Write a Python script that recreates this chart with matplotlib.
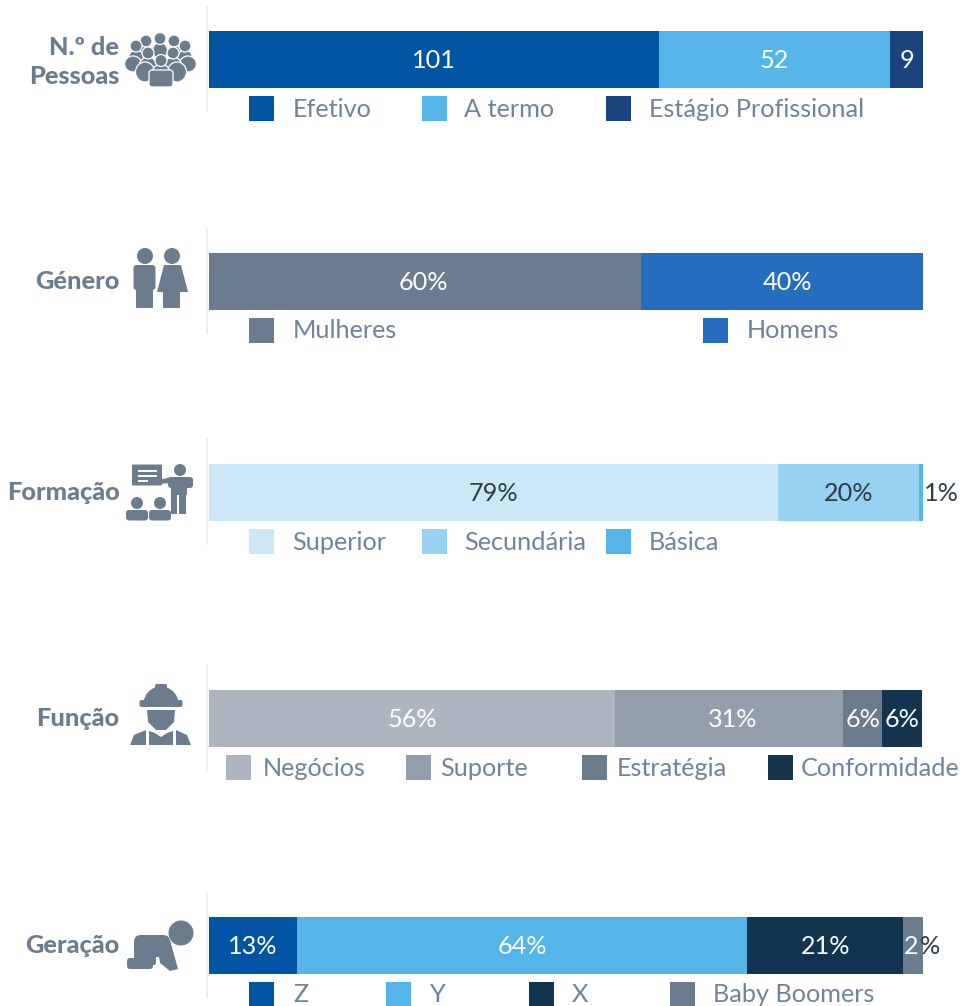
import matplotlib
matplotlib.use("Agg")
import matplotlib.pyplot as plt
from matplotlib.patches import Circle, Rectangle, Polygon, FancyBboxPatch, Ellipse, Wedge

plt.rcParams['font.family'] = ['Lato', 'DejaVu Sans']

W, H = 979, 1006
BAR_L, BAR_R = 209, 923

row_names = ["N.º de\nPessoas", "Género", "Formação", "Função", "Geração"]
row_y = [59.5, 281.5, 492.5, 718.5, 945.5]

# segment widths (share of the full bar length)
pessoas_w = [63.0, 32.4, 4.6]
genero_w = [60.5, 39.5]
formacao_w = [79.7, 19.7, 0.6]
funcao_w = [56.9, 31.9, 5.5, 5.6]
geracao_w = [12.3, 63.1, 21.8, 2.8]

pessoas_lab = ["101", "52", "9"]
genero_lab = ["60%", "40%"]
formacao_lab = ["79%", "20%", "1%"]
funcao_lab = ["56%", "31%", "6%", "6%"]
geracao_lab = ["13%", "64%", "21%", "2"]

pessoas_leg = ["Efetivo", "A termo", "Estágio Profissional"]
genero_leg = ["Mulheres", "Homens"]
formacao_leg = ["Superior", "Secundária", "Básica"]
funcao_leg = ["Negócios", "Suporte", "Estratégia", "Conformidade"]
geracao_leg = ["Z", "Y", "X", "Baby Boomers"]

pessoas_col = ["#0054a4", "#56b5e8", "#1b437d"]
genero_col = ["#6c7c8f", "#266dbf"]
formacao_col = ["#cce8f7", "#96d2f1", "#56b5e8"]
funcao_col = ["#adb5c0", "#929eab", "#6c7c8f", "#12344f"]
geracao_col = ["#0054a4", "#56b5e8", "#12344f", "#6c7c8f"]

pessoas_txt = ["white", "white", "white"]
genero_txt = ["white", "white"]
formacao_txt = ["#2e3d4a", "#2e3d4a", "#2e3d4a"]
funcao_txt = ["white", "white", "white", "white"]
geracao_txt = ["white", "white", "white", "white"]

widths = [pessoas_w, genero_w, formacao_w, funcao_w, geracao_w]
labels = [pessoas_lab, genero_lab, formacao_lab, funcao_lab, geracao_lab]
legends = [pessoas_leg, genero_leg, formacao_leg, funcao_leg, geracao_leg]
colors = [pessoas_col, genero_col, formacao_col, funcao_col, geracao_col]
txtcols = [pessoas_txt, genero_txt, formacao_txt, funcao_txt, geracao_txt]

# legend layout: swatch x, text x, swatch top y
leg_swatch_x = [[249, 422, 606], [249, 703], [249, 422, 606], [226, 406, 582, 768], [249, 386, 529, 670]]
leg_text_x = [[292.5, 464.5, 649], [292.5, 746.5], [292.5, 464.5, 649], [262.5, 440.5, 616.5, 800.5], [293, 430, 572, 713]]
leg_top = [96, 318, 529, 755, 982]
sep_span = [(6, 112), (228, 334), (438, 545), (665, 772), (892, 998)]
label_dx = {(1, 0): -2.0, (1, 1): 5.0, (3, 1): 3.0}
name_dy = [2.5, 0, 0, 0, 0]

GREY = "#6c7c8f"
LEG_TXT = "#71839a"
DARK = "#2e3d4a"
FS = 18.2

fig = plt.figure(figsize=(W / 100, H / 100), dpi=100, facecolor="white")

ax = fig.add_axes([BAR_L / W, 0, (BAR_R - BAR_L) / W, 1])
ax.set_xlim(0, 100)
ax.set_ylim(H, 0)
ax.axis("off")

px = fig.add_axes([0, 0, 1, 1], zorder=3)
px.set_xlim(0, W)
px.set_ylim(H, 0)
px.axis("off")
px.patch.set_alpha(0)

for i, y in enumerate(row_y):
    left = 0
    for j, (w, c) in enumerate(zip(widths[i], colors[i])):
        ax.barh(y, w, left=left, height=57, color=c, linewidth=0)
        cx = left + w / 2
        lab = labels[i][j]
        ty = y + 1
        if lab == "1%":
            px.text(924, ty, lab, color=DARK, fontsize=FS, ha="left", va="center")
        elif lab == "2":
            px.text(919, ty, lab, color="white", fontsize=FS, ha="right", va="center")
            px.text(920, ty, "%", color=DARK, fontsize=FS, ha="left", va="center")
        else:
            dx = label_dx.get((i, j), 0) * 100 / (BAR_R - BAR_L)
            ax.text(cx + dx, ty, lab, color=txtcols[i][j], fontsize=FS, ha="center", va="center")
        left += w
    for sx, tx, name, c in zip(leg_swatch_x[i], leg_text_x[i], legends[i], colors[i]):
        px.add_patch(Rectangle((sx, leg_top[i]), 25, 25, color=c, lw=0))
        px.text(tx, leg_top[i] + 13, name, color=LEG_TXT, fontsize=FS, ha="left", va="center")
    px.add_patch(Rectangle((206.5, sep_span[i][0]), 2, sep_span[i][1] - sep_span[i][0], color="#eeeef8", lw=0))
    px.text(119.5, y + name_dy[i], row_names[i], color=GREY, fontsize=18.3, fontweight="black",
            ha="right", va="center", linespacing=1.33)


def circ(x, y, r, c=GREY):
    px.add_patch(Circle((x, y), r, color=c, lw=0))


def box(x, y, w, h, r=2, c=GREY):
    px.add_patch(FancyBboxPatch((x + r, y + r), w - 2 * r, h - 2 * r, boxstyle=f"round,pad={r}", color=c, lw=0))


def poly(pts, c=GREY):
    px.add_patch(Polygon(pts, closed=True, color=c, lw=0))


def blob(x, head_y, r, bw, bh):
    """One head and a rounded body with a thin white outline, painted back to front."""
    px.add_patch(Ellipse((x, head_y + r + bh / 2), bw, bh + 4, fc=GREY, ec="white", lw=0.9))
    px.add_patch(Circle((x, head_y), r, fc=GREY, ec="white", lw=0.9))


# crowd icon
for x, hy in [(146, 41), (174, 41), (160, 38.5), (136, 46), (185, 46)]:
    blob(x, hy, 6, 15, 12)
for x, hy in [(133, 59), (188, 59)]:
    px.add_patch(Ellipse((x, hy + 5), 17, 16, fc=GREY, ec="white", lw=0.9))
for x, hy in [(148, 53), (173, 53)]:
    blob(x, hy, 6, 18, 16)
for x, hy in [(145, 66), (177, 66)]:
    px.add_patch(Ellipse((x, hy + 6), 19, 20, fc=GREY, ec="white", lw=0.9))
blob(161, 60.5, 6, 17, 10)
px.add_patch(FancyBboxPatch((152, 73), 18, 11, boxstyle="round,pad=3", fc=GREY, ec="white", lw=0.9))

# gender icon
circ(145, 256, 8)
box(133.5, 265, 22, 25, 3)
box(136, 285, 17, 23, 1)
circ(172, 256, 8)
poly([(164, 265), (181, 265), (188, 292), (157, 292)])
box(163, 288, 17, 20, 1)

# training icon
box(132, 464.5, 30, 21, 1)
for yy, x1 in [(470, 157), (475, 157), (480, 148)]:
    px.add_patch(Rectangle((138, yy), x1 - 138, 2, color="white", lw=0))
circ(180, 470, 6)
box(168, 477, 25, 11, 3)
box(171, 480, 16, 15, 1)
px.add_patch(Rectangle((171, 492), 6.5, 22, color=GREY, lw=0))
px.add_patch(Rectangle((179.5, 492), 6.5, 22, color=GREY, lw=0))
poly([(158, 480), (172, 477), (172, 483), (158, 484)])
for x in (137, 160):
    circ(x, 503, 6)
    box(x - 11, 510, 22, 10.5, 3)

# worker icon
px.add_patch(Wedge((161, 704), 17.5, 180, 360, color=GREY, lw=0))
box(155, 684, 12, 14, 2)
box(139.5, 700, 43, 7, 2)
poly([(147, 710), (175, 710), (174, 722), (166, 730), (156, 730), (148, 722)])
poly([(130, 745), (134, 735), (146, 730), (146, 745)])
poly([(149, 731), (155, 733), (161, 737), (167, 733), (173, 731), (173, 745), (149, 745)])
poly([(176, 730), (187, 735), (191, 745), (176, 745)])

# baby icon
circ(181, 933, 12.5)
box(134, 935, 36, 22, 7)
box(127, 958, 26, 11, 3)
box(134, 950, 22, 15, 2)
poly([(157, 945), (170, 940), (178, 969), (170, 971), (160, 963)])

fig.savefig("out.png", dpi=100, facecolor="white")
